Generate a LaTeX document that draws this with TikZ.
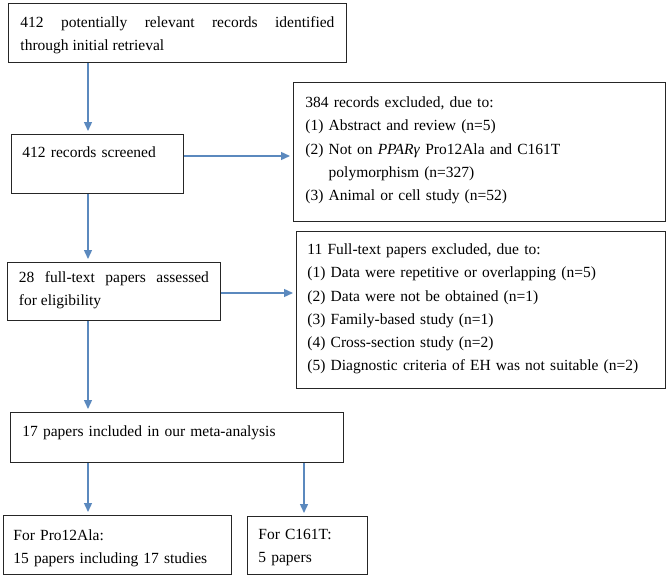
\documentclass[tikz,border=0pt]{standalone}
\usepackage{fontspec}
\setmainfont{Liberation Serif}
\usetikzlibrary{arrows.meta}
\definecolor{flowblue}{RGB}{91,137,190}

\begin{document}
\begin{tikzpicture}[
            x=1pt, y=-1pt,
            every node/.style = {shape=rectangle, draw=black!85, line width=0.9pt, anchor=north west,
                inner ysep=0pt, align=left, font=\fontsize{15.5}{23.3}\selectfont},
            flow/.style = {draw=flowblue, line width=1.4pt, -{Triangle[length=9pt, width=8pt]}, shorten >=3pt}
        ]

        \useasboundingbox (0,0) rectangle (669,578);
        \coordinate (trunk) at (88,0);
        \coordinate (branch) at (304,0);
        \coordinate (side1) at (0,156);
        \coordinate (side2) at (0,293);

        \node[inner xsep=12pt, text width=314pt, text height=24pt, text depth=35pt, align=justify] (identified) at (8,3)
            {412 potentially relevant records identified\linebreak through initial retrieval};
        \node[inner xsep=11pt, text width=150pt, text height=23pt, text depth=36pt] (screened) at (11,134)
            {412 records screened};
        \node[inner xsep=12pt, text width=348pt, text height=25pt, text depth=114pt] (excluded) at (293,82)
            {384 records excluded, due to:\\
             (1) Abstract and review (n=5)\\
             (2) Not on \textit{PPARγ} Pro12Ala and C161T\\
             \phantom{(2) }polymorphism (n=327)\\
             (3) Animal or cell study (n=52)};
        \node[inner xsep=11.5pt, text width=190pt, text height=20pt, text depth=38pt, align=justify] (assessed) at (7,262)
            {28 full-text papers assessed\linebreak for eligibility};
        \node[inner xsep=11pt, text width=347pt, text height=23pt, text depth=134pt] (fulltext) at (296,231)
            {11 Full-text papers excluded, due to:\\
             (1) Data were repetitive or overlapping (n=5)\\
             (2) Data were not be obtained (n=1)\\
             (3) Family-based study (n=1)\\
             (4) Cross-section study (n=2)\\
             (5) Diagnostic criteria of EH was not suitable (n=2)};
        \node[inner xsep=12pt, text width=309pt, text height=24pt, text depth=26pt] (included) at (10,412)
            {17 papers included in our meta-analysis};
        \node[inner xsep=10pt, text width=208pt, text height=25pt, text depth=34pt] (proala) at (3,515)
            {For Pro12Ala:\\ 15 papers including 17 studies};
        \node[inner xsep=11pt, text width=98pt, text height=23pt, text depth=35pt] (cxt) at (247,516)
            {For C161T:\\ 5 papers};

        \draw[flow] (identified.south -| trunk) -- (screened.north -| trunk);
        \draw[flow] (screened.south -| trunk) -- (assessed.north -| trunk);
        \draw[flow] (assessed.south -| trunk) -- (included.north -| trunk);
        \draw[flow] (included.south -| trunk) -- (proala.north -| trunk);
        \draw[flow] (included.south -| branch) -- (cxt.north -| branch);
        \draw[flow] (screened.east |- side1) -- (excluded.west |- side1);
        \draw[flow] (assessed.east |- side2) -- (fulltext.west |- side2);
    \end{tikzpicture}
\end{document}
